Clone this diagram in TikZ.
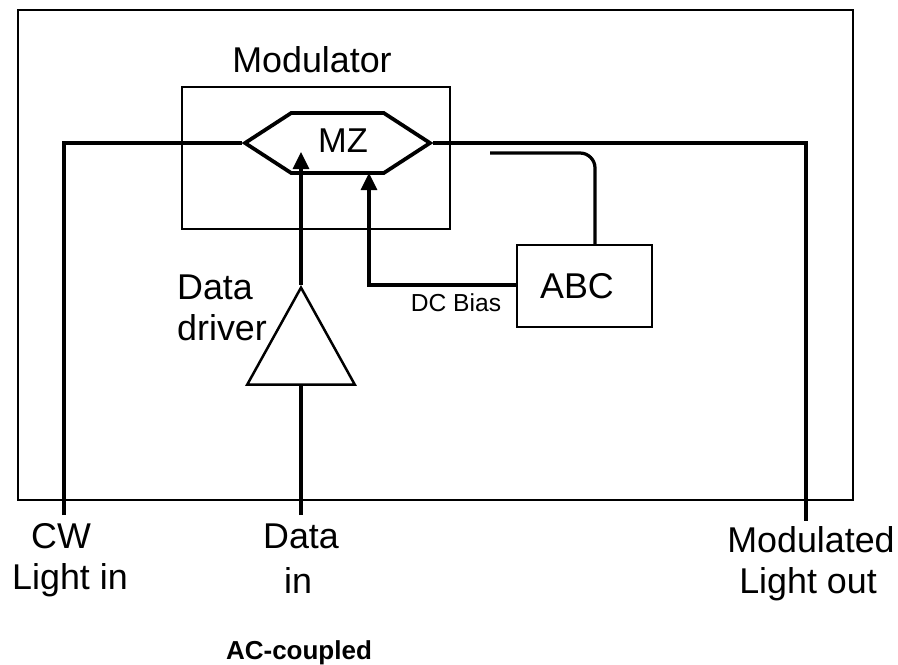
\documentclass[tikz,border=0pt]{standalone}
\usepackage{fontspec}
\setmainfont{Liberation Sans}
\usetikzlibrary{arrows.meta, shapes.geometric, shapes.symbols}

\begin{document}
\begin{tikzpicture}[
    x=0.02cm, y=-0.02cm,
    boxthin/.style={draw=black, line width=0.05cm, inner sep=0pt},
    wire/.style={draw=black, line width=0.065cm},
    arr/.style={wire, -{Triangle[length=0.34cm, width=0.32cm]}},
    hexa/.style={draw=black, line width=0.075cm, signal, signal to=east and west,
                 signal pointer angle=66,
                 minimum width=3.7cm, minimum height=1.2cm, inner sep=0pt},
    amp/.style={draw=black, line width=0.05cm, isosceles triangle,
                isosceles triangle apex angle=58, shape border rotate=90,
                minimum height=1.94cm, inner sep=0pt},
    lbl/.style={font=\fontsize{20.4}{24}\selectfont, align=center, inner sep=0pt},
    lblsmall/.style={font=\fontsize{14}{17}\selectfont, inner sep=0pt},
    lblbold/.style={font=\fontsize{14.8}{18}\selectfont\bfseries, inner sep=0pt},
]
\useasboundingbox (0,0) rectangle (898,664);

% Boxes
\node[boxthin, minimum width=16.7cm, minimum height=9.8cm] (outer) at (435.5,255) {};
\node[boxthin, minimum width=5.36cm, minimum height=2.84cm] (modbox) at (316,158) {};
\node[lbl] (modlbl) at (312,60) {Modulator};

% CW path through the modulator
\coordinate (cwin) at (64,515);
\coordinate (lightout) at (806,521);
\node[hexa] (mz) at (337.5,143) {};
\node[lbl, font=\fontsize{19.6}{24}\selectfont] (mzlbl) at (343,141) {MZ};
\draw[wire] (cwin) -- (64,143) -- (mz.west);
\draw[wire] (mz.east) -- (806,143) -- (lightout);

% Data driver
\coordinate (datain) at (301,515);
\coordinate (mzdata) at (301,152);
\node[amp, anchor=apex] (driver) at (301,285) {};
\draw[wire] (datain) -- (driver.lower side);
\draw[arr] (driver.apex) -- (mzdata);
\node[lbl] (datalbl) at (215,287) {Data};
\node[lbl] (driverlbl) at (222,328) {driver};

% ABC loop
\node[boxthin, minimum width=2.7cm, minimum height=1.64cm] (abc) at (584.5,286) {};
\node[lbl] (abclbl) at (577,286) {ABC};
\coordinate (tap) at (490,153);
\coordinate (mzbias) at (369,173);
\draw[wire, rounded corners=0.3cm] (abc.north -| 595,0) -- (595,153) -- (tap);
\draw[arr] (abc.west |- 0,285) -- (369,285) -- (mzbias);
\node[lblsmall] (dclbl) at (456,303) {DC Bias};

% Outside labels
\node[lbl] (cwlbl) at (61,536) {CW};
\node[lbl] (lightinlbl) at (70,580) {Light in};
\node[lbl] (datainlbl) at (301,536) {Data};
\node[lbl] (inlbl) at (298,580) {in};
\node[lbl] (modoutlbl) at (811,540) {Modulated};
\node[lbl] (lightoutlbl) at (808,584) {Light out};
\node[lblbold] (aclbl) at (299,653) {AC-coupled};

\end{tikzpicture}
\end{document}
